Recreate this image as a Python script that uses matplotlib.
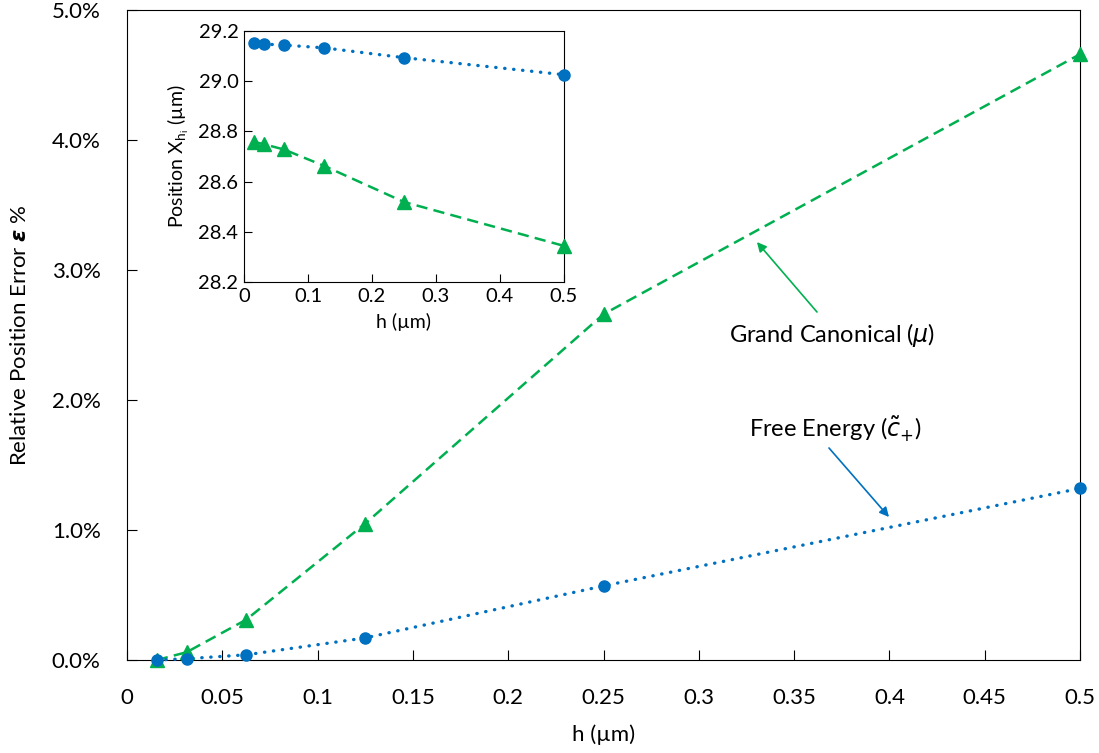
import matplotlib.pyplot as plt
from matplotlib.ticker import PercentFormatter, FuncFormatter, MultipleLocator

plt.rcParams['font.family'] = ['Lato', 'DejaVu Sans']
plt.rcParams['mathtext.fontset'] = 'dejavusans'

# data
h = [0.015625, 0.03125, 0.0625, 0.125, 0.25, 0.5]
err_grand = [0.0, 0.06, 0.31, 1.05, 2.66, 4.66]      # percent
err_free = [0.0, 0.01, 0.04, 0.17, 0.57, 1.32]       # percent
pos_free = [29.151, 29.148, 29.144, 29.133, 29.094, 29.026]
pos_grand = [28.758, 28.749, 28.728, 28.663, 28.519, 28.344]

BLUE = '#0070C0'
GREEN = '#00B050'
DOTS = (0, (0.1, 2.6))


def draw(ax, y_green, y_blue):
    ax.plot(h, y_green, ls='--', lw=1.8, color=GREEN, marker='^', ms=10,
            dashes=(4.5, 2.5), clip_on=False, zorder=3)
    ax.plot(h, y_blue, ls=DOTS, lw=2.4, color=BLUE, marker='o', ms=8,
            dash_capstyle='round', clip_on=False, zorder=3)


fig = plt.figure(figsize=(10.99, 7.53), dpi=100)
ax = fig.add_axes([0.1156, 0.1235, 0.8671, 0.8632])
draw(ax, err_grand, err_free)

ax.set_xlim(0, 0.5)
ax.set_ylim(0, 5)
ax.xaxis.set_major_locator(MultipleLocator(0.05))
ax.yaxis.set_major_locator(MultipleLocator(1))
ax.xaxis.set_major_formatter(FuncFormatter(lambda v, p: '%g' % round(v, 3)))
ax.yaxis.set_major_formatter(PercentFormatter(100, decimals=1))
ax.tick_params(direction='in', length=7, labelsize=16)
ax.tick_params(axis='x', pad=20)
ax.tick_params(axis='y', pad=19)
ax.set_xlabel('h (µm)', fontsize=16, labelpad=12)
ax.set_ylabel(r'Relative Position Error $\mathbfit{\varepsilon}$ %', fontsize=16, labelpad=16)

# annotations
ax.text(0.3158, 2.50, r'Grand Canonical ($\mu$)', fontsize=17, va='center', ha='left')
ax.annotate('', xy=(0.3305, 3.215), xytext=(0.362, 2.677),
            arrowprops=dict(arrowstyle='-|>', color=GREEN, lw=1.2, shrinkA=0, shrinkB=0,
                            mutation_scale=14))
ax.text(0.3263, 1.77, r'Free Energy ($\tilde{c}_{+}$)', fontsize=17, va='center', ha='left')
ax.annotate('', xy=(0.3998, 1.10), xytext=(0.3683, 1.631),
            arrowprops=dict(arrowstyle='-|>', color=BLUE, lw=1.2, shrinkA=0, shrinkB=0,
                            mutation_scale=14))

# inset
ins = fig.add_axes([0.222, 0.6255, 0.291, 0.3333])
draw(ins, pos_grand, pos_free)
ins.set_xlim(0, 0.5)
ins.set_ylim(28.2, 29.2)
ins.xaxis.set_major_locator(MultipleLocator(0.1))
ins.yaxis.set_major_locator(MultipleLocator(0.2))
ins.xaxis.set_major_formatter(FuncFormatter(lambda v, p: '%g' % round(v, 3)))
ins.yaxis.set_major_formatter(FuncFormatter(lambda v, p: '%.1f' % v))
ins.tick_params(direction='in', length=6, labelsize=14.5, pad=4)
ins.set_xlabel('h (µm)', fontsize=14, labelpad=6)
ins.set_ylabel(r'Position X$_{\mathregular{h}_{\mathregular{i}}}$ (µm)', fontsize=14, labelpad=5)

fig.savefig('out.png', dpi=100)
